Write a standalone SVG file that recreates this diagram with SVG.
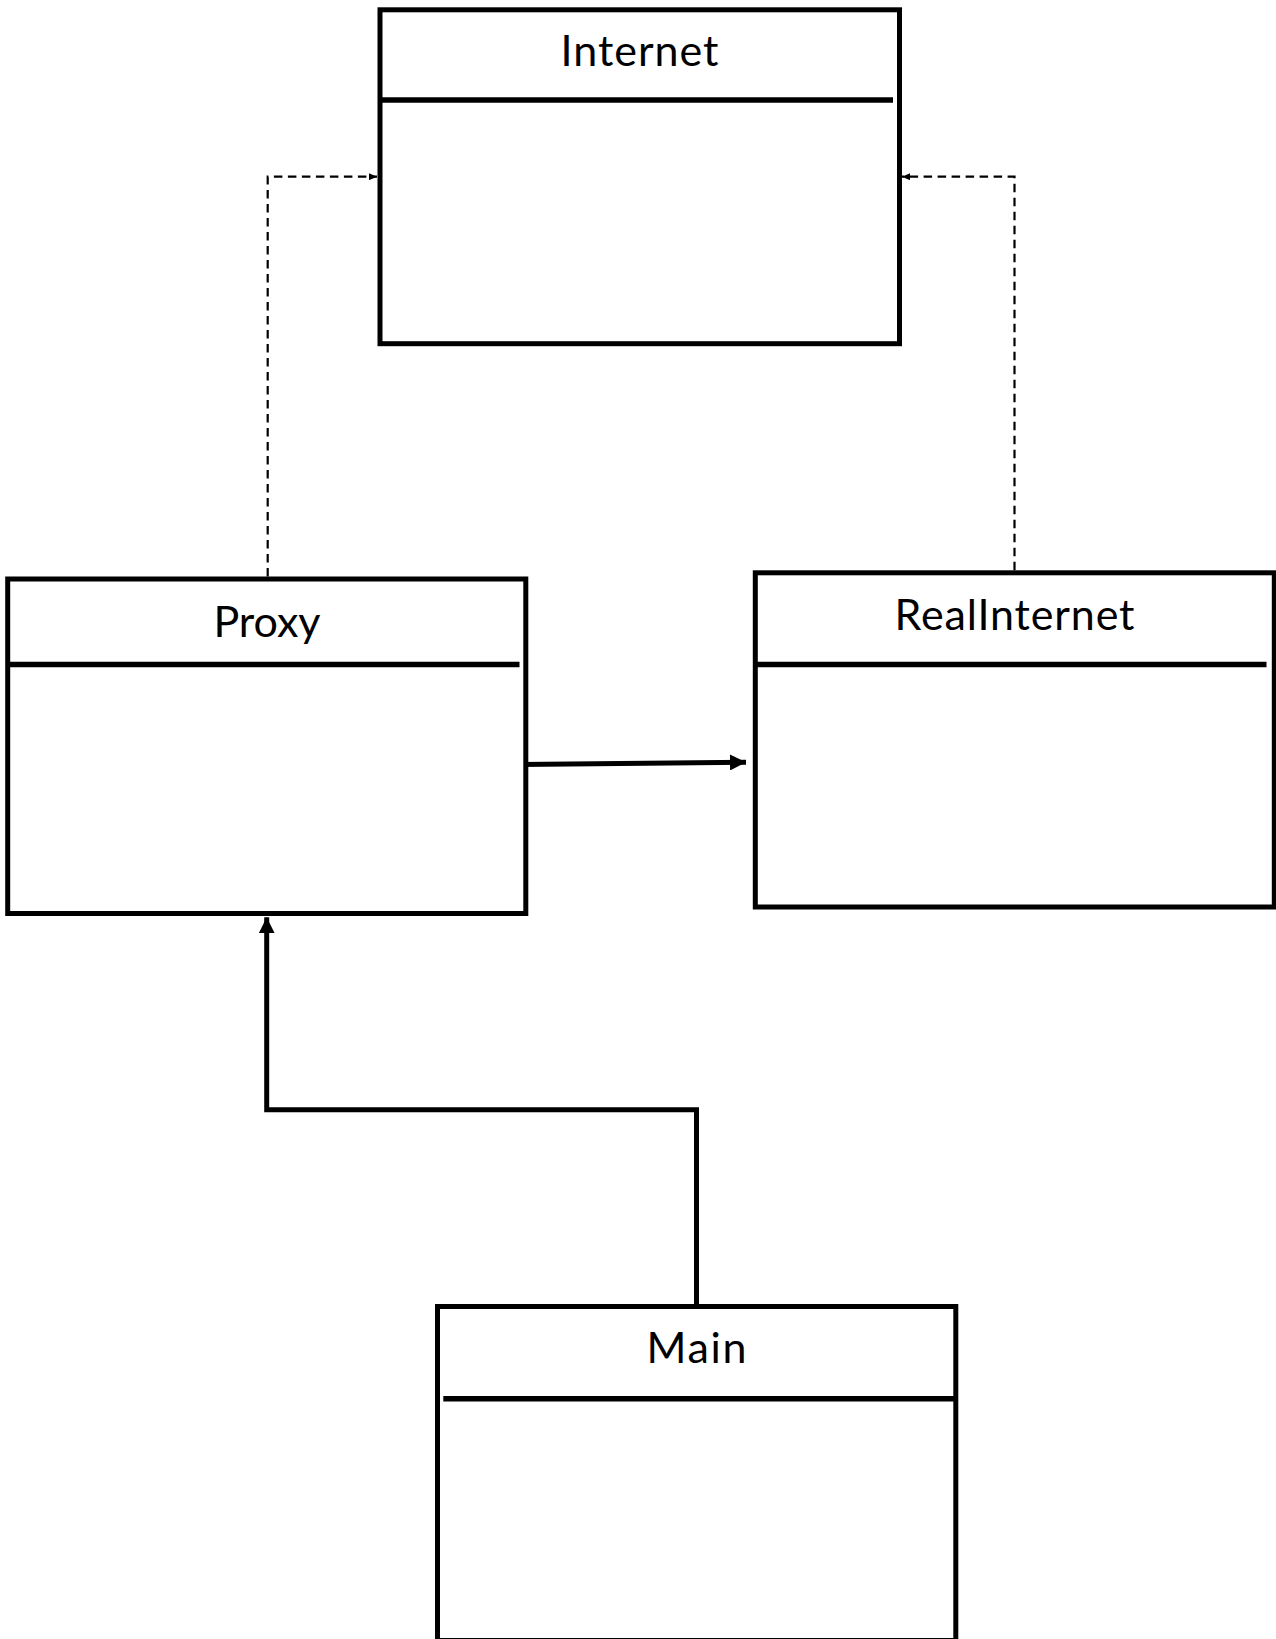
<svg xmlns="http://www.w3.org/2000/svg" width="1276" height="1639" viewBox="0 0 1276 1639">
  <style>
    .box { fill: #ffffff; stroke: #000000; stroke-width: 5; }
    .sep { stroke: #000000; stroke-width: 5.5; }
    .title { font-family: Lato, "Open Sans", sans-serif; font-size: 43px; fill: #000000; text-anchor: middle; }
    .dep { fill: none; stroke: #000000; stroke-width: 2.2; stroke-dasharray: 8.5 5.5; }
    .assoc { fill: none; stroke: #000000; stroke-width: 5; }
  </style>
  <defs>
    <marker id="small-tip" viewBox="0 0 8 7" refX="8" refY="3.5" markerWidth="8" markerHeight="7" markerUnits="userSpaceOnUse" orient="auto">
      <path d="M0,0 L8,3.5 L0,7 Z" fill="#000000"/>
    </marker>
    <marker id="big-tip" viewBox="0 0 16 16" refX="16" refY="8" markerWidth="16" markerHeight="16" markerUnits="userSpaceOnUse" orient="auto">
      <path d="M0,0 L16,8 L0,16 Z" fill="#000000"/>
    </marker>
  </defs>

  <rect width="1276" height="1639" fill="#ffffff"/>

  <!-- connectors -->
  <g id="connectors">
    <path class="dep" d="M267.7,576.5 V176.7 H377" marker-end="url(#small-tip)"/>
    <path class="dep" d="M1014.5,570.3 V176.7 H902" marker-end="url(#small-tip)"/>
    <path class="assoc" d="M519.5,764.5 L746,762.3" marker-end="url(#big-tip)"/>
    <path class="assoc" d="M696.5,1306.5 V1109.7 H266.7 V917.3" marker-end="url(#big-tip)"/>
  </g>

  <!-- class: Internet -->
  <g id="node-internet">
    <rect class="box" x="380" y="9.8" width="519.5" height="333.9"/>
    <line class="sep" x1="380" y1="100" x2="893" y2="100"/>
    <text class="title" x="639.5" y="65.7" textLength="158" lengthAdjust="spacing">Internet</text>
  </g>

  <!-- class: Proxy -->
  <g id="node-proxy">
    <rect class="box" x="7.7" y="579" width="518.1" height="334.5"/>
    <line class="sep" x1="7.7" y1="664.5" x2="519.5" y2="664.5"/>
    <text class="title" x="267" y="637" textLength="107" lengthAdjust="spacing">Proxy</text>
  </g>

  <!-- class: RealInternet -->
  <g id="node-realinternet">
    <rect class="box" x="755.3" y="572.8" width="519" height="334.2"/>
    <line class="sep" x1="755.3" y1="664.5" x2="1266.5" y2="664.5"/>
    <text class="title" x="1014.5" y="630" textLength="240" lengthAdjust="spacing">RealInternet</text>
  </g>

  <!-- class: Main -->
  <g id="node-main">
    <rect class="box" x="437.5" y="1306.5" width="518.3" height="334"/>
    <line class="sep" x1="443.3" y1="1398.8" x2="955.8" y2="1398.8"/>
    <text class="title" x="696.5" y="1362.7" textLength="100" lengthAdjust="spacing">Main</text>
  </g>
</svg>
